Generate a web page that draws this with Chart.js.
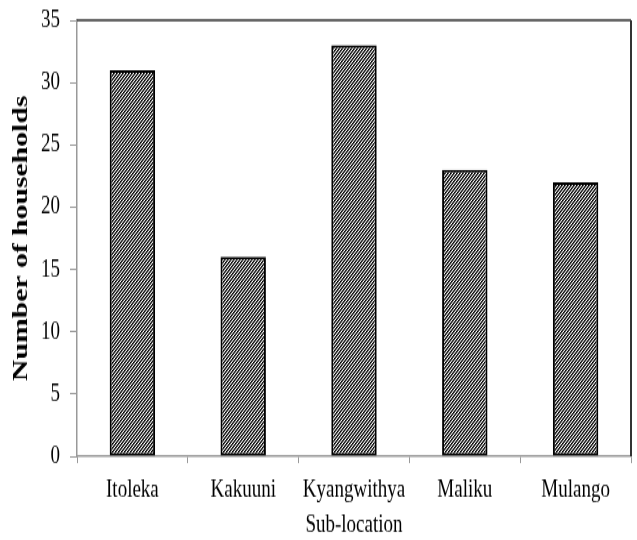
<!DOCTYPE html>
<html>
<head>
<meta charset="utf-8">
<script src="https://cdn.jsdelivr.net/npm/chart.js@4.4.1/dist/chart.umd.min.js"></script>
<style>
  html { overflow: hidden; }
  html, body { margin: 0; padding: 0; background: #fff; }
  body { width: 637px; height: 540px; }
  #wrap {
    width: 637px; height: 400px;
    transform: scaleY(1.35); transform-origin: 0 0;
  }
</style>
</head>
<body>
<div id="wrap"><canvas id="c"></canvas></div>
<script>
// Households per sub-location
const categories = ['Itoleka', 'Kakuuni', 'Kyangwithya', 'Maliku', 'Mulango'];
const households = [31, 16, 33, 23, 22];
const yTickValues = [0, 5, 10, 15, 20, 25, 30, 35];

// Dense diagonal hatch used to fill the bars
function makeHatch() {
  const t = document.createElement('canvas');
  t.width = 3; t.height = 3;
  const g = t.getContext('2d');
  g.fillStyle = '#fff';
  g.fillRect(0, 0, 3, 3);
  for (let x = 0; x < 3; x++) {
    for (let y = 0; y < 3; y++) {
      const k = (x + y) % 3;
      if (k === 2) { g.fillStyle = '#000'; g.fillRect(x, y, 1, 1); }
      else if (k === 0) { g.fillStyle = '#555'; g.fillRect(x, y, 1, 1); }
    }
  }
  return document.getElementById('c').getContext('2d').createPattern(t, 'repeat');
}

// Frame lines along the top and right of the plot area
const frame = {
  id: 'frame',
  afterDraw(chart) {
    const { ctx, chartArea: a } = chart;
    ctx.save();
    ctx.strokeStyle = '#333';
    ctx.lineWidth = 1.5;
    ctx.beginPath();
    ctx.moveTo(a.left, a.top);
    ctx.lineTo(a.right, a.top);
    ctx.stroke();
    ctx.lineWidth = 2;
    ctx.beginPath();
    ctx.moveTo(a.right, a.top);
    ctx.lineTo(a.right, a.bottom);
    ctx.stroke();
    ctx.restore();
  }
};

const serif = 'Liberation Serif, Times New Roman, serif';

new Chart(document.getElementById('c'), {
  type: 'bar',
  data: {
    labels: categories,
    datasets: [{
      data: households,
      backgroundColor: makeHatch(),
      borderColor: '#000',
      borderWidth: 2,
      borderSkipped: false,
      categoryPercentage: 1.0,
      barPercentage: 0.41
    }]
  },
  options: {
    responsive: true,
    maintainAspectRatio: false,
    animation: false,
    layout: { padding: { top: 15, right: 6, left: 0, bottom: 0 } },
    plugins: { legend: { display: false }, tooltip: { enabled: false } },
    scales: {
      x: {
        grid: { display: true, drawOnChartArea: false, offset: true, tickLength: 5, color: '#999', lineWidth: 1 },
        border: { display: true, color: '#999', width: 1.5 },
        ticks: { color: '#000', font: { family: serif, size: 19 }, padding: 9, maxRotation: 0 },
        title: {
          display: true, text: 'Sub-location', color: '#000',
          font: { family: serif, size: 19 }, padding: { top: 0, bottom: 0 }
        },
        afterFit(scale) { scale.height = 62; scale.paddingLeft = 0; scale.paddingRight = 0; }
      },
      y: {
        min: 0, max: 35,
        afterBuildTicks(scale) { scale.ticks = yTickValues.map(v => ({ value: v })); },
        grid: { display: true, drawOnChartArea: false, tickLength: 7, color: '#999', lineWidth: 1 },
        border: { display: true, color: '#999', width: 1.5 },
        ticks: { color: '#000', font: { family: serif, size: 19 }, padding: 10 },
        title: {
          display: true, text: 'Number of households', color: '#000',
          font: { family: serif, size: 22, weight: 'bold' }, padding: { top: 8, bottom: 0 }
        },
        afterFit(scale) { scale.width = 77; scale.paddingTop = 0; scale.paddingBottom = 0; }
      }
    }
  },
  plugins: [frame]
});
</script>
</body>
</html>
